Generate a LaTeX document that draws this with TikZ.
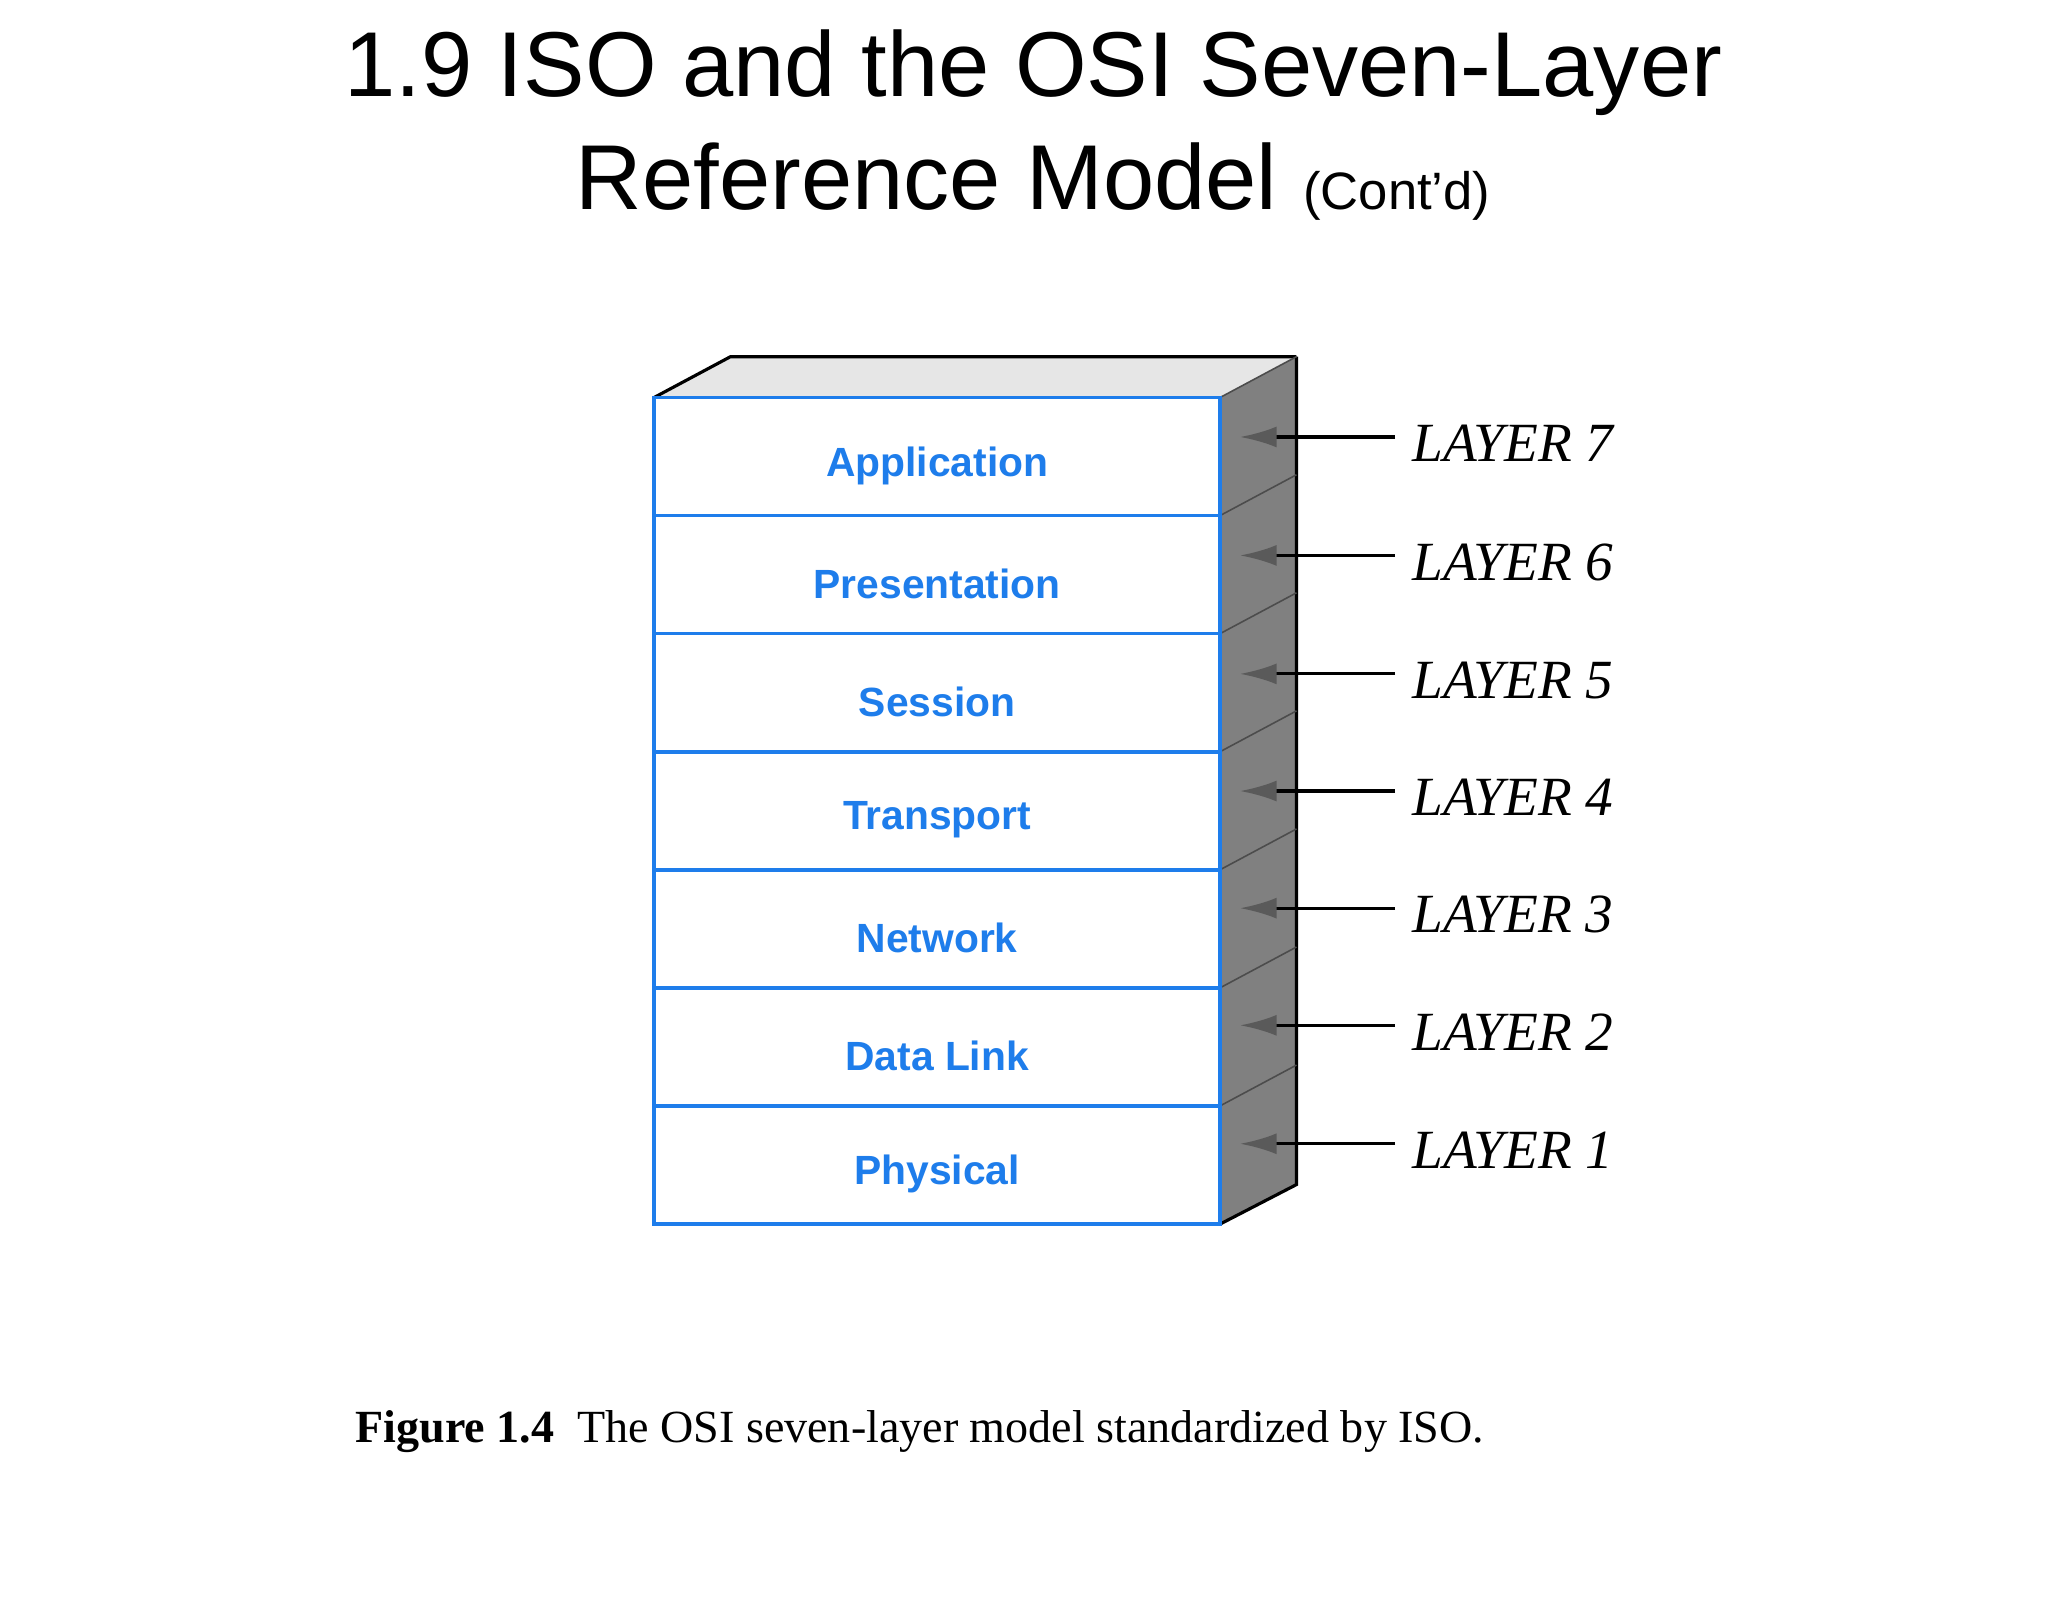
\documentclass[tikz,border=0pt]{standalone}
\usepackage{fontspec}
\setmainfont{Liberation Serif}
\setsansfont{Liberation Sans}
\usetikzlibrary{arrows.meta}
\definecolor{lblue}{RGB}{30,125,235}
\definecolor{sidegray}{RGB}{128,128,128}
\definecolor{topgray}{RGB}{230,230,230}
\begin{document}
\begin{tikzpicture}[x=0.5pt,y=-0.5pt,
  layertext/.style={font=\sffamily\bfseries\fontsize{15.5}{18}\selectfont, text=lblue},
  laylabel/.style={font=\itshape\fontsize{21}{24}\selectfont, anchor=west},
  ptr/.style={draw=black, line width=1.2pt, -{Latex[length=14pt,width=8pt,fill=sidegray!70!black,color=sidegray!70!black]}}]
\useasboundingbox (0,0) rectangle (1556,1218);
\node[font=\sffamily\fontsize{35}{40}\selectfont] (t1) at (785,55) {1.9 ISO and the OSI Seven-Layer};
\node[font=\sffamily\fontsize{35}{40}\selectfont] (t2) at (785,138) {Reference Model {\fontsize{20}{24}\selectfont(Cont’d)}};
% top face
\fill[topgray] (497,302) -- (555,271) -- (985,271) -- (927,302) -- cycle;
\draw[black, line width=1.2pt] (497,302) -- (555,271) -- (985,271);
% side face
\fill[sidegray] (927,302) -- (985,271) -- (985,900) -- (927,930) -- cycle;
\draw[black, line width=1.2pt] (985,271) -- (985,900) -- (927,930);
\draw[black!70, line width=0.6pt] (927,302) -- (985,271);
\foreach \i in {1,...,6} {
  \draw[black!70, line width=0.6pt] (927,{302+\i*89.7}) -- (985,{271+\i*89.7});
}
% front layers
\foreach \i/\name/\lab in {0/app/Application,1/pres/Presentation,2/sess/Session,3/trans/Transport,4/net/Network,5/dl/Data Link,6/phys/Physical} {
  \draw[lblue, line width=1.4pt, fill=white] (497,{302+\i*89.7}) rectangle (927,{302+(\i+1)*89.7});
  \node[layertext] (\name) at (712,{302+\i*89.7+52}) {\lab};
}
% labels and arrows
\foreach \n/\y in {7/332,6/422,5/512,4/601,3/690,2/779,1/869} {
  \node[laylabel] (L\n) at (1066,{\y+5}) {LAYER \n};
  \coordinate (tip\n) at (942,\y);
  \draw[ptr] (L\n.west |- tip\n) ++(-6,0) -- (tip\n);
}
\node[font=\fontsize{17.5}{20}\selectfont, anchor=west] (cap) at (263,1088) {\textbf{Figure 1.4}\ \ The OSI seven-layer model standardized by ISO.};
\end{tikzpicture}
\end{document}
